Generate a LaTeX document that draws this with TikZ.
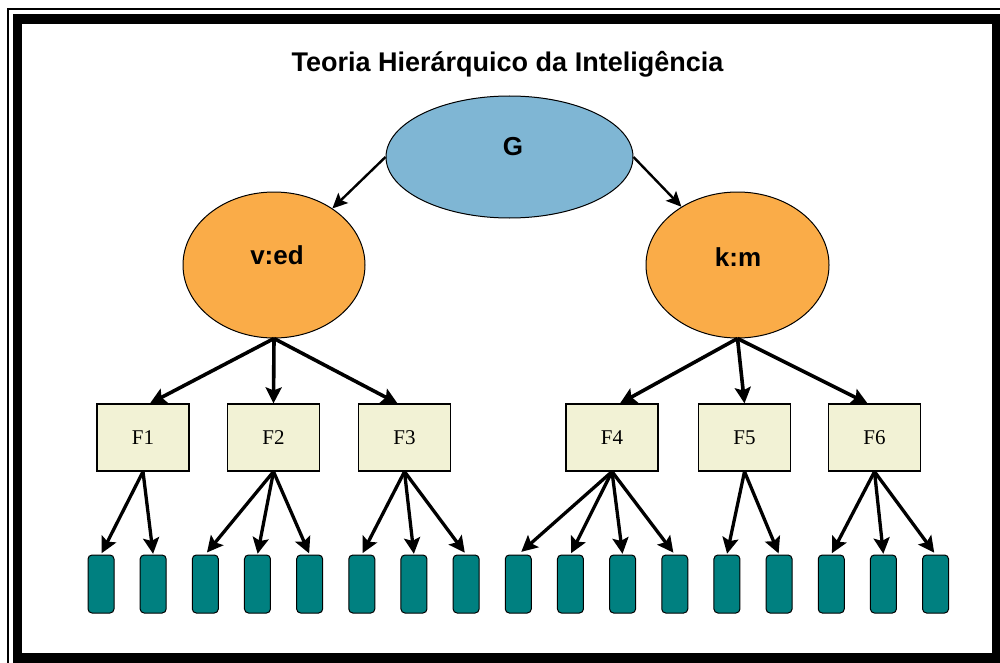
\documentclass[tikz,border=0pt]{standalone}
\usepackage{fontspec}
\setmainfont{Liberation Serif}
\setsansfont{Liberation Sans}
\usetikzlibrary{arrows.meta,calc,shapes.geometric}
\definecolor{gblue}{RGB}{127,182,212}
\definecolor{orng}{RGB}{250,172,72}
\definecolor{fboxc}{RGB}{242,242,213}
\definecolor{tealc}{RGB}{0,128,128}
\tikzset{
  ell/.style={ellipse, draw=black, line width=1pt, inner sep=0pt},
  lbl/.style={font=\sffamily\bfseries\fontsize{26}{26}\selectfont, anchor=base, inner sep=0pt},
  fbox/.style={rectangle, draw=black, line width=1.2pt, fill=fboxc, minimum width=92pt, minimum height=67pt, inner sep=0pt, text height=13.5pt, text depth=0pt, font=\fontsize{21}{21}\selectfont},
  tbox/.style={rectangle, rounded corners=4pt, draw=black, line width=1pt, fill=tealc, minimum width=26pt, minimum height=58pt, inner sep=0pt},
  garr/.style={-{Stealth[length=15pt,width=14pt,inset=3pt]}, line width=2.4pt},
  farr/.style={-{Stealth[length=16pt,width=16pt,inset=3pt]}, line width=3.6pt},
  tarr/.style={-{Stealth[length=16pt,width=16pt,inset=3pt]}, line width=3.3pt, shorten >=-6pt}
}
\begin{document}
\begin{tikzpicture}[x=1pt,y=-1pt]
\useasboundingbox (0,0) rectangle (1000,663);
\fill[white] (0,0) rectangle (1000,663);
% frame
\draw[line width=2pt] (8,9.5) rectangle (1015,680);
\draw[line width=9.5pt] (17.5,19) rectangle (997,658);
% title
\node[font=\sffamily\bfseries\fontsize{27}{27}\selectfont, anchor=base, inner sep=0pt] (title) at (507.5,72) {Teoria Hierárquico da Inteligência};
% ellipses
\node[ell, fill=gblue, minimum width=247pt, minimum height=122pt] (G) at (509.5,157) {};
\node[lbl] (Gt) at (513,156) {G};
\node[ell, fill=orng, minimum width=182pt, minimum height=146pt] (vA) at (274,265) {};
\node[lbl] (vAt) at (277,264) {v:ed};
\node[ell, fill=orng, minimum width=183pt, minimum height=146pt] (kB) at (737.5,265) {};
\node[lbl] (kBt) at (738,266) {k:m};
% factor boxes
\node[fbox] (f1) at (143,437.5) {F1};
\node[fbox] (f2) at (273.5,437.5) {F2};
\node[fbox] (f3) at (404.5,437.5) {F3};
\node[fbox] (f4) at (612,437.5) {F4};
\node[fbox] (f5) at (744.5,437.5) {F5};
\node[fbox] (f6) at (874.5,437.5) {F6};
% teal boxes
\foreach \i in {1,...,17}
  \node[tbox] (t\i) at ({101+52.16*(\i-1)},584) {};
% arrows G
\draw[garr] (G.west) -- (vA);
\draw[garr] (G.east) -- (kB);
% arrows to factors
\draw[farr] (vA.south) -- ($(f1.north)+(7,0)$);
\draw[farr] (vA.south) -- (f2.north);
\draw[farr] (vA.south) -- ($(f3.north)+(-7,0)$);
\draw[farr] (kB.south) -- ($(f4.north)+(8,0)$);
\draw[farr] (kB.south) -- (f5.north);
\draw[farr] (kB.south) -- ($(f6.north)+(-7,0)$);
% arrows to teal boxes
\foreach \f/\t in {f1/1,f1/2,f2/3,f2/4,f2/5,f3/6,f3/7,f3/8,f4/9,f4/10,f4/11,f4/12,f5/13,f5/14,f6/15,f6/16,f6/17}
  \draw[tarr] (\f.south) -- ($(t\t.north)!0.08!(\f.south)$);
\end{tikzpicture}
\end{document}
